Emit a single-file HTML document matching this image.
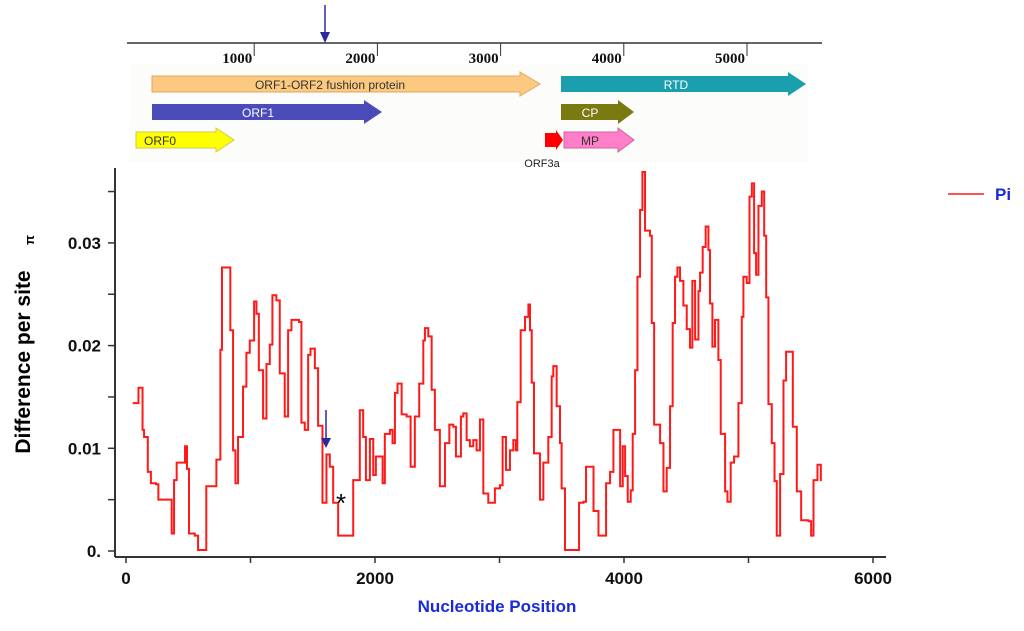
<!DOCTYPE html>
<html><head><meta charset="utf-8"><style>
body{margin:0;background:#fff;width:1024px;height:626px;overflow:hidden}
svg{font-family:"Liberation Sans",sans-serif}
</style></head><body>
<svg width="1024" height="626">
<g>
<rect x="130" y="64" width="678" height="98" fill="#fcfcfa"/>
<line x1="127" y1="43" x2="822" y2="43" stroke="#333" stroke-width="1.5"/>
<line x1="325" y1="5" x2="325" y2="34" stroke="#2a2a9a" stroke-width="1.5"/>
<polygon points="320,32 330,32 325,43" fill="#2a2a9a"/>
<g id="gticks" font-family="Liberation Serif" font-weight="bold" font-size="15" fill="#111"></g>
<g><polygon points="152,76 520,76 520,72 540,84 520,96 520,92 152,92" fill="#fbc97f" stroke="#e0a860"/><text x="330" y="89" font-size="12" text-anchor="middle" fill="#333">ORF1-ORF2 fushion protein</text></g>
<g><polygon points="561,76 788,76 788,72 806,84 788,96 788,92 561,92" fill="#1a9fae"/><text x="676" y="89" font-size="12" text-anchor="middle" fill="#fff">RTD</text></g>
<g><polygon points="152,104 364,104 364,100 382,112 364,124 364,120 152,120" fill="#4a4ab8"/><text x="258" y="117" font-size="12" text-anchor="middle" fill="#fff">ORF1</text></g>
<g><polygon points="561,104 618,104 618,100 634,112 618,124 618,120 561,120" fill="#7a7a10"/><text x="590" y="117" font-size="12" text-anchor="middle" fill="#fff">CP</text></g>
<g><polygon points="136,132 216,132 216,128 234,140 216,152 216,148 136,148" fill="#ffff00" stroke="#cc4"/><text x="160" y="145" font-size="12" text-anchor="middle" fill="#333">ORF0</text></g>
<g><polygon points="545,133 556,133 556,130 563,140 556,150 556,147 545,147" fill="#f00"/><text x="542" y="167" font-size="11" text-anchor="middle" fill="#222">ORF3a</text></g>
<g><polygon points="564,132 618,132 618,128 634,140 618,152 618,148 564,148" fill="#ff80c8" stroke="#d060a0"/><text x="590" y="145" font-size="12" text-anchor="middle" fill="#333">MP</text></g>
</g>
<line x1="115" y1="168" x2="115" y2="557" stroke="#333" stroke-width="2"/>
<line x1="115" y1="557" x2="886" y2="557" stroke="#333" stroke-width="2"/>
<g id="yticks" font-weight="bold" font-size="17" fill="#111"></g>
<g id="xticks" font-weight="bold" font-size="17" fill="#111"></g>
<path id="line" fill="none" stroke="#ff1a1a" stroke-width="2"/>
<line x1="326" y1="410" x2="326" y2="440" stroke="#2a2a9a" stroke-width="1.5"/>
<polygon points="321,438 331,438 326,448" fill="#2a2a9a"/>
<text x="341" y="512" font-size="26" text-anchor="middle" fill="#000">*</text>
<text transform="translate(30,362) rotate(-90)" font-size="21" font-weight="bold" text-anchor="middle" fill="#000">Difference per site</text>
<text x="34" y="245" font-size="13" font-weight="bold" fill="#000" transform="rotate(-90 34 245)">π</text>
<text x="497" y="612" font-size="17" font-weight="bold" text-anchor="middle" fill="#1a2ad8">Nucleotide Position</text>
<g><line x1="948" y1="194" x2="984" y2="194" stroke="#ff1a1a" stroke-width="1.6"/><text x="995" y="200" font-size="17" font-weight="bold" fill="#1a2ad8">Pi</text></g>
</svg>
<script>
const positions=[54,100,133,133,145,175,200,240,260,330,367,386,407,447,474,490,506,552,579,624,645,699,726,758,771,806,838,860,879,900,940,967,994,1029,1048,1067,1101,1128,1155,1176,1208,1235,1275,1302,1329,1390,1409,1436,1463,1482,1517,1543,1578,1610,1637,1664,1704,1771,1825,1878,1905,1927,1959,1986,2007,2061,2079,2120,2141,2160,2181,2214,2254,2286,2320,2355,2388,2401,2428,2455,2481,2521,2562,2597,2629,2650,2690,2709,2736,2762,2789,2816,2843,2870,2910,2963,3004,3025,3052,3084,3111,3132,3143,3170,3205,3232,3245,3259,3277,3312,3325,3352,3392,3419,3432,3459,3486,3499,3526,3620,3639,3674,3695,3728,3755,3795,3840,3856,3888,3915,3947,3969,3990,4009,4030,4054,4070,4089,4108,4129,4148,4169,4209,4223,4242,4290,4317,4343,4370,4391,4410,4429,4450,4477,4504,4530,4549,4571,4598,4611,4632,4656,4678,4691,4710,4731,4758,4777,4812,4831,4857,4884,4919,4946,4959,4986,5008,5027,5045,5061,5080,5107,5126,5142,5160,5187,5209,5227,5254,5281,5302,5329,5356,5388,5423,5482,5503,5522,5554,5581];
const piValues=[.0144,.0159,.0159,.0118,.0111,.0077,.0066,.0065,.005,.005,.0017,.0069,.0086,.0086,.0102,.008,.0017,.0015,.0001,.0001,.0063,.0063,.0089,.0196,.0276,.0276,.0215,.0098,.0066,.0111,.016,.0193,.0205,.0243,.0231,.0176,.0129,.0182,.0201,.0249,.0244,.0173,.0131,.0215,.0225,.0223,.0125,.0118,.0191,.0197,.0178,.0122,.0047,.0094,.0082,.0047,.0015,.0015,.0069,.0137,.0111,.0069,.0109,.0074,.0092,.0066,.0114,.0118,.0105,.0154,.0163,.0133,.0131,.0082,.0131,.0163,.0205,.0217,.0209,.0157,.0118,.0063,.0105,.0123,.0121,.0092,.0131,.0134,.0108,.0102,.0108,.0098,.0128,.0056,.0047,.0061,.0064,.0111,.0079,.0098,.0108,.0098,.0145,.0215,.0228,.024,.0215,.0164,.0095,.0095,.005,.0086,.0111,.017,.018,.0141,.0105,.0061,.0001,.0001,.0047,.0048,.0082,.0082,.0039,.0015,.0015,.0066,.0077,.0118,.0118,.0063,.0102,.0073,.0048,.0059,.0114,.0176,.0267,.0332,.0369,.0312,.0307,.0222,.0123,.0105,.0058,.0081,.0141,.0222,.0267,.0276,.0263,.0239,.0216,.0198,.0263,.0206,.0253,.0271,.0296,.0316,.0293,.0241,.0199,.0225,.0186,.0114,.0058,.0048,.0086,.0092,.0144,.0228,.0267,.0261,.0345,.0358,.029,.0269,.0336,.035,.0307,.0247,.0143,.0105,.0068,.0015,.0075,.0166,.0194,.0194,.0121,.0058,.003,.0029,.0015,.0069,.0084,.0068];
const yTickVals=[0,0.005,0.01,0.015,0.02,0.025,0.03,0.035];
const yTickLabels=["0.","","0.01","","0.02","","0.03",""];
const xTickVals=[0,1000,2000,3000,4000,5000,6000];
const xTickLabels=["0","","2000","","4000","","6000"];
const genomeTickVals=[1000,2000,3000,4000,5000];
const NS="http://www.w3.org/2000/svg";
const xs=v=>126+v*0.1245, ys=v=>551-v*10270, gx=v=>131+v*0.1232;
let d="";
positions.forEach((p,i)=>{const x=xs(p),y=ys(piValues[i]);if(i===0)d+=`M${x},${y}`;else d+=`H${x}V${y}`;});
document.getElementById('line').setAttribute('d',d);
const yt=document.getElementById('yticks');
yTickVals.forEach((v,i)=>{const y=ys(v);
 const l=document.createElementNS(NS,'line');l.setAttribute('x1',108);l.setAttribute('x2',115);l.setAttribute('y1',y);l.setAttribute('y2',y);l.setAttribute('stroke','#333');l.setAttribute('stroke-width','1.5');
 
 
 yt.appendChild(l);
 if(yTickLabels[i]){const t=document.createElementNS(NS,'text');t.setAttribute('x',101);t.setAttribute('y',y+6);t.setAttribute('text-anchor','end');t.textContent=yTickLabels[i];
 
 
 yt.appendChild(t);}
});
const xt=document.getElementById('xticks');
xTickVals.forEach((v,i)=>{const x=xs(v);
 const l=document.createElementNS(NS,'line');l.setAttribute('x1',x);l.setAttribute('x2',x);l.setAttribute('y1',557);l.setAttribute('y2',563);l.setAttribute('stroke','#333');l.setAttribute('stroke-width','1.5');
 
 
 xt.appendChild(l);
 if(xTickLabels[i]){const t=document.createElementNS(NS,'text');t.setAttribute('x',x);t.setAttribute('y',584);t.setAttribute('text-anchor','middle');t.textContent=xTickLabels[i];
 
 
 xt.appendChild(t);}
});
const gt=document.getElementById('gticks');
genomeTickVals.forEach(v=>{const x=gx(v);
 const l=document.createElementNS(NS,'line');l.setAttribute('x1',x);l.setAttribute('x2',x);l.setAttribute('y1',43);l.setAttribute('y2',56);l.setAttribute('stroke','#333');
 
 
 gt.appendChild(l);
 const t=document.createElementNS(NS,'text');t.setAttribute('x',x-2);t.setAttribute('y',63);t.setAttribute('text-anchor','end');t.textContent=v;
 
 
 gt.appendChild(t);
});
</script>
</body></html>
